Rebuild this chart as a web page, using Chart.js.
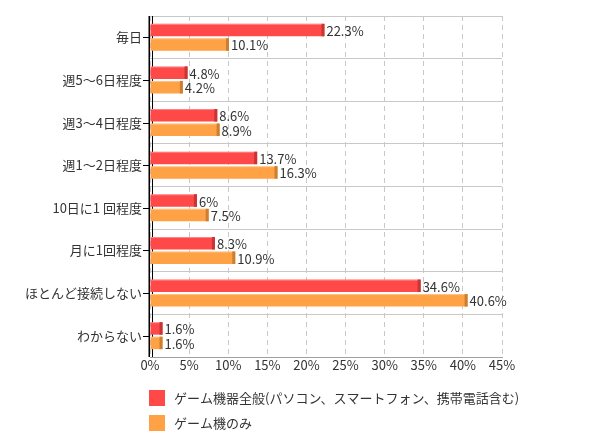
<!DOCTYPE html>
<html>
<head>
<meta charset="utf-8">
<script src="https://cdn.jsdelivr.net/npm/chart.js@4"></script>
<style>
  html, body { margin: 0; padding: 0; background: #fff; }
  #wrap { width: 598px; height: 448px; position: relative; }
</style>
</head>
<body>
<div id="wrap"><canvas id="chart"></canvas></div>
<script>
// data
const categories = ['毎日', '週5～6日程度', '週3～4日程度', '週1～2日程度', '10日に1 回程度', '月に1回程度', 'ほとんど接続しない', 'わからない'];
const seriesNames = ['ゲーム機器全般(パソコン、スマートフォン、携帯電話含む)', 'ゲーム機のみ'];
const allDevices = [22.3, 4.8, 8.6, 13.7, 6, 8.3, 34.6, 1.6];
const consoleOnly = [10.1, 4.2, 8.9, 16.3, 7.5, 10.9, 40.6, 1.6];
const xTicks = [0, 5, 10, 15, 20, 25, 30, 35, 40, 45];

const colors = ['#ff4848', '#ffa245'];
const edgeColors = ['#c83535', '#cc7f33'];
const FONT = '"Noto Sans CJK JP", "Noto Sans", sans-serif';
const TEXT = '#333';

// bar end shading, value labels, y tick marks, legend
const decorPlugin = {
    id: 'decor',
    beforeDatasetsDraw(chart) {
        const ctx = chart.ctx;
        const area = chart.chartArea;
        ctx.save();
        ctx.strokeStyle = '#000';
        ctx.lineWidth = 1;
        ctx.beginPath();
        ctx.moveTo(area.left + 2.5, area.top);
        ctx.lineTo(area.left + 2.5, area.bottom);
        ctx.stroke();
        ctx.restore();
    },
    afterDatasetsDraw(chart) {
        const ctx = chart.ctx;
        const area = chart.chartArea;
        ctx.save();
        chart.data.datasets.forEach((ds, di) => {
            const meta = chart.getDatasetMeta(di);
            meta.data.forEach((bar, i) => {
                const h = bar.height;
                const top = bar.y - h / 2;
                // darker end cap
                ctx.fillStyle = edgeColors[di];
                ctx.fillRect(bar.x - 3, top, 3, h);
                // light top edge
                ctx.fillStyle = 'rgba(255,255,255,0.35)';
                ctx.fillRect(bar.base, top, bar.x - bar.base - 3, 1);
                // value label
                ctx.fillStyle = TEXT;
                ctx.font = '13px ' + FONT;
                ctx.textAlign = 'left';
                ctx.textBaseline = 'middle';
                ctx.fillText(ds.data[i] + '%', bar.x + 2, bar.y + 1);
            });
        });
        // y tick marks at category centres
        const yScale = chart.scales.y;
        ctx.strokeStyle = '#000';
        ctx.lineWidth = 1;
        categories.forEach((c, i) => {
            const y = Math.round(yScale.getPixelForValue(i)) + 0.5;
            ctx.beginPath();
            ctx.moveTo(area.left - 7, y);
            ctx.lineTo(area.left, y);
            ctx.stroke();
        });
        // left axis line
        ctx.lineWidth = 1.5;
        ctx.beginPath();
        ctx.moveTo(area.left - 0.75, area.top);
        ctx.lineTo(area.left - 0.75, area.bottom);
        ctx.stroke();
        // legend
        seriesNames.forEach((name, i) => {
            const y = 390 + i * 25;
            ctx.fillStyle = colors[i];
            ctx.fillRect(149, y, 16, 16);
            ctx.fillStyle = TEXT;
            ctx.font = '13px ' + FONT;
            ctx.textAlign = 'left';
            ctx.textBaseline = 'middle';
            ctx.fillText(name, 174, y + 8);
        });
        ctx.restore();
    }
};

new Chart(document.getElementById('chart'), {
    type: 'bar',
    data: {
        labels: categories,
        datasets: [
            { label: seriesNames[0], data: allDevices, backgroundColor: colors[0], borderWidth: 0 },
            { label: seriesNames[1], data: consoleOnly, backgroundColor: colors[1], borderWidth: 0 }
        ]
    },
    options: {
        indexAxis: 'y',
        responsive: true,
        maintainAspectRatio: false,
        animation: false,
        events: [],
        layout: { padding: { top: 16, right: 96, left: 0, bottom: 0 } },
        datasets: { bar: { categoryPercentage: 0.68, barPercentage: 0.86 } },
        plugins: { legend: { display: false }, tooltip: { enabled: false } },
        scales: {
            x: {
                min: 0,
                max: 45,
                afterBuildTicks: s => { s.ticks = xTicks.map(v => ({ value: v })); },
                ticks: {
                    callback: v => v + '%',
                    color: TEXT,
                    font: { family: FONT, size: 13 },
                    padding: 0,
                    maxRotation: 0
                },
                grid: { color: '#c8c8c8', drawTicks: false, tickLength: 0 },
                border: { display: true, color: '#a0a0a0', dash: [5, 4] },
                afterFit: s => { s.height = 91; }
            },
            y: {
                ticks: {
                    color: TEXT,
                    font: { family: FONT, size: 13 },
                    padding: 8
                },
                grid: { color: '#c8c8c8', drawTicks: false, offset: true },
                border: { display: false },
                afterFit: s => { s.width = 150; }
            }
        }
    },
    plugins: [decorPlugin]
});
</script>
</body>
</html>
